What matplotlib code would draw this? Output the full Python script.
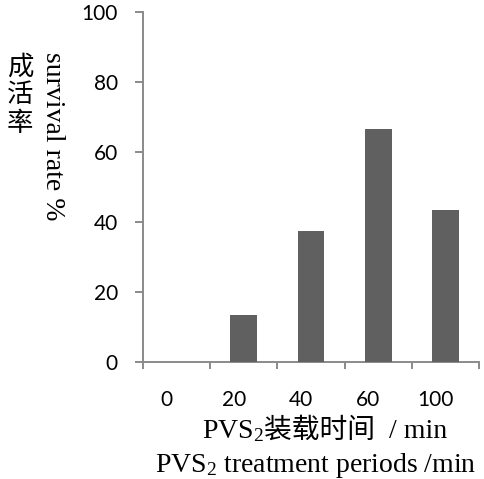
import matplotlib
matplotlib.use("Agg")
import matplotlib.pyplot as plt
import matplotlib.transforms as mtransforms
import numpy as np

# data
periods = ["0", "20", "40", "60", "100"]
survival = [0, 13.3, 37.5, 66.7, 43.3]
y_ticks = [0, 20, 40, 60, 80, 100]

bar_color = "#606060"
axis_color = "#8a8a8a"
serif = ["Liberation Serif", "Noto Sans CJK SC", "DejaVu Serif"]
num_font = ["Lato", "DejaVu Sans"]

plt.rcParams["mathtext.default"] = "regular"

fig = plt.figure(figsize=(4.85, 4.79), dpi=100)
ax = fig.add_axes([143 / 485, 1 - 362 / 479, (479 - 143) / 485, (362 - 12) / 479])

x = np.arange(len(periods))
ax.bar(x, survival, width=0.4, color=bar_color, zorder=3)

ax.set_xlim(-0.5, len(periods) - 0.5)
ax.set_ylim(0, 100)

for s in ["top", "right"]:
    ax.spines[s].set_visible(False)
for s in ["left", "bottom"]:
    ax.spines[s].set_color(axis_color)
    ax.spines[s].set_linewidth(1.4)

# x: tick marks between categories, labels at centres
ax.set_xticks(np.arange(len(periods) + 1) - 0.5)
ax.set_xticklabels([])
ax.set_xticks(x, minor=True)
ax.set_xticklabels(periods, minor=True, fontfamily=num_font, fontsize=15)
ax.tick_params(axis="x", which="major", direction="out", length=5, width=1.4, color=axis_color)
ax.tick_params(axis="x", which="minor", length=0, pad=20)
shift = mtransforms.ScaledTranslation(-10 / 100, 0, fig.dpi_scale_trans)
for lab in ax.get_xticklabels(minor=True):
    lab.set_transform(lab.get_transform() + shift)

ax.set_yticks(y_ticks)
ax.set_yticklabels([str(v) for v in y_ticks], fontfamily=num_font, fontsize=15)
ax.tick_params(axis="y", direction="out", length=6, width=1.4, color=axis_color, pad=12)

# axis titles
fig.text(20 / 485, 1 - 95 / 479, "成\n活\n率", family=["Noto Sans CJK SC"], fontsize=19,
         fontweight="medium", ha="center", va="center", linespacing=1.05)
fig.text(52 / 485, 1 - 136 / 479, "survival rate %", family=serif, fontsize=20,
         rotation=270, ha="center", va="center")

# first x title line: PVS2 (mathtext subscript) followed by CJK + unit
fig.canvas.draw()
renderer = fig.canvas.get_renderer()
t1 = fig.text(202 / 485, 1 - 438 / 479, "PVS$_2$", family="Liberation Serif", fontsize=20,
              va="baseline", ha="left")
bb = t1.get_window_extent(renderer)
fig.text(bb.x1 / fig.bbox.width, 1 - 438 / 479, "装载时间  / min", family=serif, fontsize=20,
         va="baseline", ha="left")
fig.text(155 / 485, 1 - 472 / 479, "PVS$_2$ treatment periods /min", family="Liberation Serif",
         fontsize=20, va="baseline", ha="left")

fig.savefig("out.png", dpi=100)
